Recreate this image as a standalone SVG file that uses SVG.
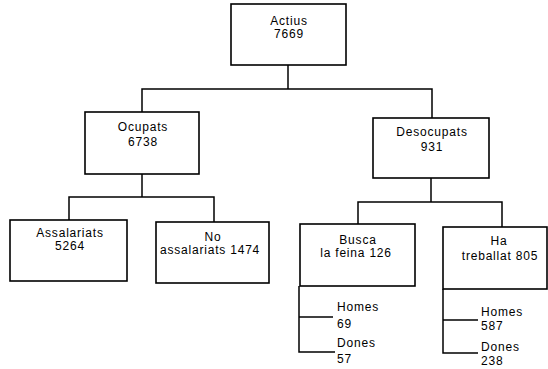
<svg xmlns="http://www.w3.org/2000/svg" width="548" height="369" viewBox="0 0 548 369">
<style>
rect{fill:#fff;stroke:#000;stroke-width:1.6}
.c path{fill:none;stroke:#000;stroke-width:1.5}
text{font-family:"Liberation Sans",Arial,sans-serif;font-size:12px;fill:#000;letter-spacing:0.8px}
.m{text-anchor:middle}
</style>
<rect x="0" y="0" width="548" height="369" style="fill:#fff;stroke:none"/>
<g class="c" id="connectors">
<path d="M288,65 V89"/>
<path d="M142,112 V89 H432 V118"/>
<path d="M142,174 V197"/>
<path d="M69,220 V197 H214 V222"/>
<path d="M431,178 V202"/>
<path d="M358,224 V202 H502 V227"/>
<path d="M299,286 V352 H335"/>
<path d="M299,317 H333"/>
<path d="M443,289 V353 H478"/>
<path d="M443,320 H478"/>
</g>
<g id="actius"><rect x="231" y="4" width="115" height="61"/><text class="m" x="289" y="25">Actius</text><text class="m" x="289" y="38">7669</text></g>
<g id="ocupats"><rect x="85" y="112" width="114" height="62"/><text class="m" x="143" y="131">Ocupats</text><text class="m" x="143" y="146">6738</text></g>
<g id="desocupats"><rect x="373" y="118" width="116" height="60"/><text class="m" x="432" y="136">Desocupats</text><text class="m" x="432" y="151">931</text></g>
<g id="assalariats"><rect x="10" y="220" width="117" height="61"/><text class="m" x="70" y="237">Assalariats</text><text class="m" x="70" y="250">5264</text></g>
<g id="noassalariats"><rect x="156" y="222" width="113" height="61"/><text class="m" x="213" y="241">No</text><text class="m" x="210" y="254">assalariats 1474</text></g>
<g id="busca"><rect x="300" y="224" width="115" height="62"/><text class="m" x="358" y="244">Busca</text><text class="m" x="356" y="257">la feina 126</text></g>
<g id="ha"><rect x="443" y="227" width="104" height="62"/><text class="m" x="499" y="245">Ha</text><text class="m" x="500" y="260">treballat 805</text></g>
<g id="busca-homes"><text x="337" y="311">Homes</text><text x="337" y="328">69</text></g>
<g id="busca-dones"><text x="337" y="347">Dones</text><text x="337" y="363">57</text></g>
<g id="ha-homes"><text x="481" y="316">Homes</text><text x="481" y="330">587</text></g>
<g id="ha-dones"><text x="481" y="351">Dones</text><text x="481" y="365">238</text></g>
</svg>
